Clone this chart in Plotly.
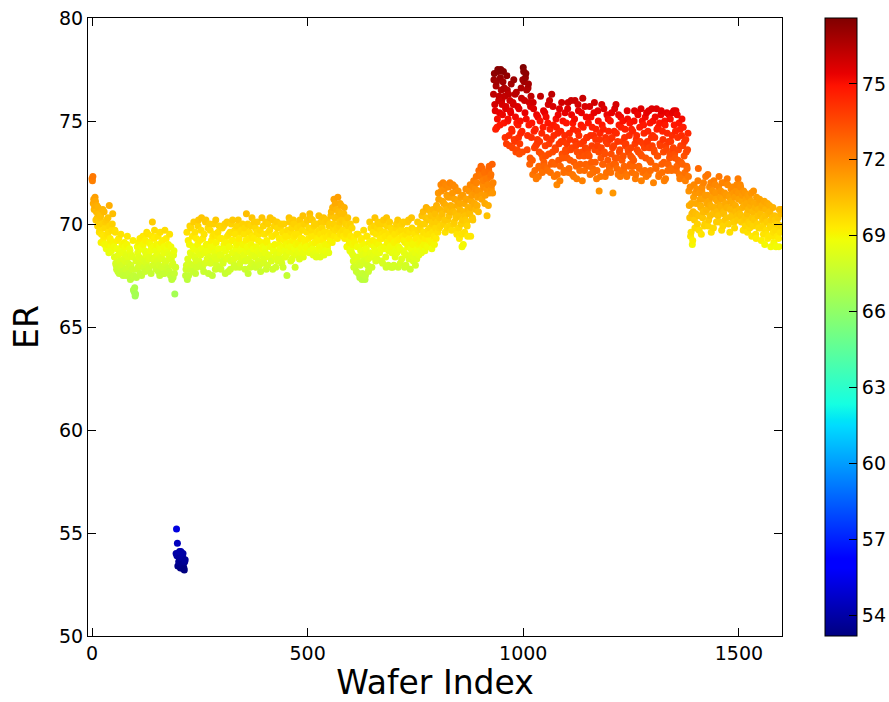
import numpy as np
import plotly.graph_objects as go

# ER readings for the even-numbered wafers (0, 2, 4, ...), 50 wafers per row
er_even_wafers = [
    72.2, 72.3, 71.2, 70.9, 71.1, 70.6, 70.3, 70.8, 70.1, 69.7, 70.4, 69.5, 70.0, 69.2, 70.6, 69.8, 69.4, 70.2, 69.0, 69.6, 70.9, 69.3, 68.9, 69.7, 70.5,
    69.1, 68.4, 69.6, 68.0, 68.8, 67.7, 69.3, 68.2, 67.9, 68.6, 69.0, 67.5, 68.3, 68.9, 67.8, 68.5, 69.4, 68.1, 67.6, 68.7, 68.0, 67.4, 68.4, 66.8, 66.7,
    66.5, 68.2, 67.8, 68.6, 69.1, 68.0, 67.6, 68.9, 68.3, 69.4, 67.9, 68.7, 69.2, 68.1, 68.6, 69.5, 67.8, 68.4, 69.0, 68.8, 70.1, 68.3, 69.3, 68.0, 68.7,
    69.0, 68.2, 67.7, 68.9, 69.6, 68.4, 67.9, 69.2, 68.6, 67.6, 68.1, 69.3, 68.8, 67.8, 68.5, 69.5, 67.5, 68.3, 68.0, 67.4, 68.7, 66.6, 67.9, 55.2, 54.5,
    54.0, 53.8, 53.6, 54.1, 53.3, 53.9, 53.5, 53.2, 53.7, 67.8, 69.6, 68.3, 67.5, 69.0, 68.6, 69.8, 68.0, 68.9, 70.1, 68.4, 67.6, 69.3, 68.7, 69.9, 68.2,
    69.2, 68.5, 70.3, 67.9, 68.8, 69.5, 68.1, 70.2, 68.7, 69.0, 67.6, 68.4, 69.7, 68.9, 68.2, 69.4, 70.0, 68.6, 67.8, 69.1, 68.3, 69.6, 68.8, 67.9, 69.3,
    68.5, 69.8, 68.1, 69.0, 70.0, 68.7, 68.3, 69.4, 67.7, 68.9, 69.6, 68.2, 69.2, 70.2, 68.6, 68.0, 69.5, 68.8, 69.9, 68.4, 69.1, 67.9, 68.7, 69.7, 68.3,
    69.0, 68.5, 69.8, 68.2, 70.5, 68.9, 67.6, 69.3, 68.6, 69.9, 68.1, 69.4, 68.8, 70.1, 68.4, 67.9, 69.6, 68.7, 69.2, 68.0, 69.7, 68.5, 70.3, 68.9, 68.3,
    69.5, 68.6, 67.8, 69.1, 70.0, 68.4, 69.7, 68.9, 68.2, 69.4, 70.2, 68.7, 69.0, 67.9, 68.5, 69.8, 68.3, 69.3, 68.8, 70.0, 68.1, 69.6, 68.9, 69.2, 68.4,
    69.0, 67.5, 69.4, 68.7, 70.1, 68.9, 69.6, 68.3, 69.2, 70.0, 68.8, 69.5, 68.5, 69.8, 69.1, 68.6, 70.2, 69.3, 68.9, 69.7, 68.4, 70.0, 69.2, 68.8, 69.6,
    70.2, 69.3, 68.6, 70.3, 69.0, 69.7, 68.8, 69.4, 70.0, 69.1, 68.4, 69.6, 69.2, 70.4, 68.9, 69.5, 68.7, 69.8, 69.3, 68.5, 70.1, 69.0, 69.6, 68.8, 69.4,
    69.9, 69.2, 70.4, 69.6, 70.8, 70.0, 69.4, 71.0, 70.3, 69.8, 71.3, 70.6, 70.1, 69.5, 70.9, 70.2, 69.7, 70.5, 69.3, 70.0, 69.6, 68.9, 69.9, 69.2, 68.7,
    69.4, 68.6, 69.0, 68.2, 69.3, 67.9, 70.2, 69.5, 68.4, 67.6, 68.9, 68.0, 69.2, 67.3, 68.5, 69.7, 68.1, 67.5, 68.8, 69.4, 68.3, 67.8, 70.1, 68.6, 69.0,
    68.4, 69.6, 68.9, 70.3, 68.2, 69.1, 69.8, 68.6, 70.0, 69.3, 68.8, 69.5, 68.1, 70.2, 68.9, 69.4, 67.9, 69.9, 69.1, 68.7, 70.1, 69.3, 67.9, 69.7, 68.9,
    68.0, 69.5, 68.7, 70.0, 69.2, 67.9, 69.6, 68.8, 69.9, 68.3, 69.4, 70.1, 68.6, 69.1, 68.0, 69.7, 68.9, 70.2, 69.3, 67.8, 68.5, 69.8, 69.0, 68.4, 69.5,
    68.0, 69.3, 68.8, 69.7, 68.5, 69.1, 70.0, 68.6, 69.4, 70.6, 69.0, 68.7, 70.3, 69.5, 68.9, 70.7, 69.2, 69.8, 70.4, 68.8, 69.6, 70.1, 69.0, 70.5, 69.3,
    70.8, 69.6, 71.2, 70.3, 69.9, 71.6, 70.5, 72.0, 71.0, 70.2, 71.9, 70.7, 69.8, 71.3, 70.4, 72.0, 70.9, 69.7, 71.5, 70.6, 70.1, 71.8, 70.3, 69.5, 71.1,
    70.4, 69.3, 71.0, 70.0, 68.9, 71.4, 70.6, 69.6, 70.2, 71.2, 69.9, 70.8, 71.6, 70.5, 69.4, 71.1, 70.3, 71.8, 70.9, 71.5, 70.7, 72.0, 71.3, 70.6, 72.4,
    71.6, 72.8, 71.2, 72.1, 71.8, 72.5, 71.4, 72.2, 70.4, 71.9, 72.6, 71.5, 72.3, 71.7, 72.9, 72.0, 77.0, 75.8, 74.6, 76.9, 75.1, 77.4, 76.2, 74.8, 77.5,
    76.0, 75.3, 77.4, 76.6, 74.2, 75.7, 77.2, 75.0, 76.3, 73.8, 75.5, 76.8, 74.5, 75.9, 77.0, 74.0, 75.2, 76.4, 73.6, 74.8, 75.6, 73.9, 74.4, 76.1, 73.5,
    77.6, 76.9, 75.4, 77.3, 76.5, 74.3, 76.8, 75.9, 73.2, 76.2, 74.9, 72.4, 75.6, 73.7, 74.6, 72.2, 73.9, 75.2, 72.8, 74.0, 76.2, 73.4, 72.5, 74.7, 73.0,
    75.4, 73.3, 74.2, 72.6, 75.8, 73.9, 74.6, 72.9, 76.3, 73.5, 74.8, 72.3, 73.7, 75.1, 71.9, 74.4, 73.1, 75.6, 72.8, 74.0, 73.4, 75.0, 72.5, 74.3, 73.6,
    74.9, 73.2, 75.9, 72.7, 74.1, 73.6, 75.3, 72.4, 74.6, 73.0, 76.0, 73.8, 72.2, 74.5, 75.5, 73.3, 72.9, 74.8, 73.5, 76.1, 74.0, 72.6, 73.7, 75.2, 74.2,
    73.4, 72.8, 75.7, 74.3, 73.0, 74.7, 72.5, 75.4, 73.6, 74.1, 72.2, 73.8, 75.0, 71.6, 74.4, 73.2, 75.8, 72.9, 74.6, 73.5, 72.3, 74.0, 75.3, 73.1, 74.5,
    72.7, 75.0, 73.4, 74.2, 71.5, 73.8, 75.6, 72.9, 74.4, 73.2, 72.4, 74.8, 73.6, 75.2, 72.6, 74.0, 73.3, 72.8, 74.6, 73.9, 72.3, 75.1, 73.5, 74.3, 72.9,
    73.7, 72.5, 74.5, 73.1, 75.5, 72.2, 74.1, 73.6, 75.3, 72.8, 74.7, 73.4, 72.1, 75.0, 73.9, 74.4, 72.6, 73.2, 75.4, 74.0, 72.4, 73.7, 74.9, 73.0, 75.6,
    74.3, 72.0, 73.5, 75.2, 72.7, 74.6, 73.3, 72.3, 74.9, 73.8, 75.5, 72.5, 74.1, 73.0, 75.0, 72.2, 73.6, 74.4, 72.9, 75.3, 73.4, 74.0, 72.6, 75.4, 73.7,
    74.8, 73.2, 75.5, 72.8, 74.2, 73.6, 72.4, 74.6, 73.0, 75.1, 73.8, 72.3, 74.0, 72.1, 73.5, 72.7, 74.4, 71.6, 70.3, 69.4, 71.0, 69.0, 70.6, 71.9, 69.8,
    70.5, 71.7, 70.0, 72.7, 69.7, 71.2, 70.8, 71.6, 70.3, 72.0, 69.9, 71.4, 70.6, 71.0, 72.4, 70.2, 71.8, 70.9, 69.6, 71.3, 70.5, 72.1, 70.8, 71.5, 70.1,
    71.1, 70.4, 72.3, 70.9, 71.6, 69.7, 71.2, 70.6, 72.0, 70.2, 71.4, 70.8, 71.9, 70.0, 71.3, 70.7, 71.7, 70.3, 71.0, 71.5, 69.8, 70.9, 71.6, 70.4, 72.2,
    71.2, 70.5, 71.8, 70.1, 71.4, 69.7, 70.9, 71.5, 70.3, 71.0, 69.6, 70.7, 71.3, 70.0, 71.1, 69.4, 70.6, 71.6, 70.2, 70.8, 69.3, 71.0, 70.4, 69.8, 71.2,
    70.5, 69.2, 70.9, 69.9, 70.3, 69.0, 70.7, 69.5, 71.0, 70.1, 69.4, 70.6, 68.9, 69.8, 70.3, 69.6, 69.0, 70.2, 68.9, 69.7, 70.0, 69.3, 70.7, 69.6, 69.9,
]

# ER readings for the odd-numbered wafers (1, 3, 5, ...), 50 wafers per row
er_odd_wafers = [
    72.1, 71.0, 70.7, 71.3, 70.2, 70.9, 69.9, 70.5, 69.6, 70.3, 69.1, 70.0, 70.7, 69.4, 69.0, 70.1, 68.8, 69.5, 70.3, 68.6, 69.9, 69.2, 68.7, 70.0, 69.0,
    68.9, 69.7, 68.1, 67.8, 69.2, 68.5, 67.6, 68.8, 69.5, 68.0, 67.7, 68.6, 69.1, 68.2, 67.5, 69.0, 68.4, 67.9, 68.8, 67.3, 68.5, 67.8, 69.2, 67.5, 66.9,
    66.6, 67.4, 68.9, 67.9, 68.4, 69.3, 68.1, 67.5, 68.8, 69.0, 68.2, 67.7, 68.5, 69.6, 67.9, 68.3, 69.1, 68.7, 67.6, 69.4, 68.0, 68.9, 69.7, 68.4, 67.8,
    68.6, 69.4, 68.0, 67.5, 68.8, 69.1, 68.3, 67.6, 68.9, 69.7, 68.2, 67.9, 68.6, 69.0, 67.7, 68.4, 68.9, 67.3, 68.1, 68.5, 67.6, 67.9, 54.0, 53.9, 53.4,
    53.6, 54.1, 53.3, 53.8, 53.5, 54.0, 53.3, 53.6, 67.5, 68.0, 67.3, 69.2, 68.1, 69.9, 67.8, 68.5, 69.4, 67.7, 68.8, 69.6, 68.2, 67.9, 69.0, 70.2, 68.6,
    68.0, 69.7, 68.8, 69.3, 67.7, 68.6, 70.1, 69.0, 68.3, 69.8, 68.7, 70.0, 68.1, 69.2, 67.5, 68.9, 69.5, 68.4, 70.2, 68.0, 69.4, 68.7, 69.9, 68.5, 67.8,
    69.3, 68.2, 69.9, 68.8, 67.6, 69.1, 70.1, 68.4, 69.5, 68.9, 67.8, 70.0, 68.6, 69.2, 68.3, 69.7, 67.9, 69.0, 68.5, 70.2, 69.3, 68.1, 69.6, 68.8, 70.0,
    68.4, 69.5, 67.8, 69.2, 68.7, 70.0, 68.3, 69.6, 67.9, 69.0, 70.3, 68.5, 69.3, 68.0, 69.8, 68.9, 70.1, 68.2, 69.5, 68.6, 67.7, 69.1, 68.8, 69.9, 68.1,
    68.8, 70.1, 69.2, 68.0, 69.6, 68.5, 70.3, 68.9, 69.4, 67.8, 68.7, 69.9, 68.4, 69.5, 70.1, 68.2, 69.0, 68.6, 69.8, 68.3, 69.3, 67.9, 70.0, 68.7, 69.4,
    68.5, 69.7, 68.9, 70.3, 69.1, 68.2, 69.8, 68.6, 70.2, 69.4, 67.9, 69.0, 70.0, 68.7, 69.5, 68.3, 69.9, 68.8, 69.3, 70.4, 68.6, 69.1, 70.0, 68.9, 70.2,
    68.9, 69.8, 70.5, 68.7, 69.4, 70.2, 68.5, 69.9, 69.1, 68.6, 70.0, 69.3, 68.8, 69.7, 68.4, 70.1, 69.2, 68.9, 70.3, 69.6, 68.7, 69.4, 70.2, 69.0, 68.6,
    70.0, 69.5, 70.6, 69.1, 69.8, 71.2, 70.3, 69.7, 70.7, 69.3, 70.4, 69.9, 71.0, 70.5, 69.6, 70.2, 69.4, 70.8, 70.1, 69.5, 68.9, 70.3, 69.6, 69.1, 70.0,
    68.8, 69.8, 68.5, 67.9, 69.1, 68.3, 67.7, 68.9, 69.5, 68.1, 67.4, 68.7, 69.3, 67.6, 68.2, 69.0, 67.3, 68.6, 69.4, 68.0, 67.7, 69.1, 68.4, 69.8, 67.9,
    69.2, 68.5, 69.9, 68.7, 69.5, 68.3, 70.1, 69.0, 68.6, 69.7, 68.2, 69.3, 70.0, 68.8, 69.6, 68.4, 70.3, 69.1, 68.0, 69.5, 68.9, 69.8, 68.6, 67.9, 69.3,
    69.1, 68.4, 69.8, 68.6, 70.2, 68.9, 69.3, 68.1, 69.7, 70.0, 68.7, 69.2, 67.9, 69.5, 68.5, 70.1, 69.0, 68.3, 69.6, 68.8, 70.3, 69.1, 68.2, 69.7, 68.6,
    69.5, 68.3, 70.1, 69.0, 68.7, 69.8, 69.2, 70.4, 68.9, 69.6, 70.0, 69.3, 70.8, 68.9, 69.7, 70.2, 69.5, 70.6, 69.1, 70.0, 70.7, 69.4, 70.3, 69.8, 70.9,
    70.1, 71.5, 69.8, 70.7, 71.9, 70.4, 71.1, 70.0, 71.7, 69.6, 70.9, 71.4, 70.2, 71.8, 69.9, 70.6, 71.3, 70.8, 71.9, 70.0, 71.2, 70.5, 69.7, 70.9, 71.6,
    69.8, 70.7, 71.3, 69.5, 70.2, 69.0, 71.0, 70.4, 71.7, 70.1, 69.4, 71.2, 70.6, 71.9, 70.8, 71.4, 70.2, 72.1, 71.0, 71.7, 72.3, 70.9, 71.6, 72.6, 71.4,
    72.3, 71.4, 72.7, 71.9, 72.1, 71.0, 72.5, 71.7, 72.2, 70.9, 72.8, 71.6, 72.4, 71.9, 71.5, 76.3, 77.3, 75.5, 76.7, 74.7, 77.5, 76.0, 75.4, 77.1, 76.5,
    75.8, 76.9, 74.9, 76.2, 75.6, 73.9, 76.5, 75.1, 74.3, 76.0, 75.4, 74.6, 73.7, 75.8, 74.1, 76.3, 73.5, 74.9, 75.7, 74.2, 73.4, 75.0, 76.6, 74.5, 77.0,
    77.4, 76.0, 77.1, 75.1, 73.6, 76.6, 74.8, 72.9, 75.7, 74.2, 73.1, 75.9, 74.5, 72.6, 73.8, 75.3, 74.1, 72.3, 73.5, 75.0, 72.7, 74.4, 73.2, 75.5, 72.8,
    73.8, 75.2, 72.7, 74.9, 73.4, 76.0, 72.5, 74.1, 73.0, 75.7, 74.3, 72.9, 73.6, 74.7, 72.4, 75.3, 73.9, 72.1, 74.5, 75.9, 73.2, 74.0, 72.6, 75.4, 73.5,
    73.9, 75.6, 72.5, 74.4, 73.1, 76.0, 73.7, 74.9, 72.3, 75.1, 74.0, 72.8, 73.5, 75.8, 74.3, 72.6, 73.9, 75.4, 72.1, 74.7, 73.3, 75.7, 72.9, 74.2, 73.6,
    74.9, 73.3, 72.4, 75.2, 73.8, 72.7, 74.3, 75.9, 73.0, 74.6, 72.6, 75.5, 73.5, 74.1, 72.3, 73.7, 74.8, 72.9, 75.6, 73.4, 74.2, 72.5, 73.9, 75.1, 72.8,
    74.1, 72.5, 75.4, 73.7, 72.9, 74.5, 73.2, 75.8, 72.7, 74.0, 75.3, 73.5, 72.3, 74.7, 73.1, 75.0, 72.6, 74.2, 73.8, 72.4, 75.5, 73.6, 72.8, 74.9, 73.3,
    74.6, 73.2, 72.8, 75.0, 73.9, 72.4, 74.3, 75.4, 73.5, 72.7, 74.0, 75.6, 73.3, 72.5, 74.8, 73.7, 75.2, 72.3, 73.9, 74.5, 75.5, 73.1, 72.6, 74.2, 73.8,
    75.0, 73.6, 74.2, 72.8, 75.6, 73.3, 74.7, 72.4, 73.9, 75.3, 72.9, 74.5, 73.5, 72.1, 74.8, 73.8, 75.4, 72.6, 74.0, 73.2, 75.1, 72.7, 74.3, 73.6, 75.5,
    73.4, 74.5, 72.6, 75.3, 73.1, 74.9, 72.2, 73.8, 74.3, 72.9, 74.7, 73.3, 72.5, 74.1, 72.8, 73.6, 72.3, 70.9, 71.8, 69.6, 70.5, 69.2, 71.3, 70.2, 71.5,
    71.0, 69.8, 72.1, 70.4, 71.5, 70.9, 69.5, 71.8, 70.6, 71.2, 70.0, 72.3, 70.7, 71.4, 69.9, 71.1, 70.4, 72.0, 70.8, 71.6, 69.8, 70.5, 71.9, 71.2, 70.6,
    70.6, 71.8, 70.1, 71.3, 70.8, 72.0, 69.9, 70.5, 71.5, 71.0, 70.3, 72.2, 70.8, 71.4, 69.6, 71.1, 70.4, 71.8, 70.7, 70.1, 71.3, 70.6, 71.9, 70.2, 71.5,
    70.7, 71.9, 70.4, 71.1, 70.8, 71.6, 70.2, 69.9, 71.2, 70.5, 71.4, 70.1, 69.8, 70.9, 71.5, 70.3, 69.9, 71.0, 70.6, 69.5, 71.3, 70.0, 70.7, 71.1, 70.4,
    69.8, 70.8, 70.2, 69.5, 71.1, 70.4, 69.7, 70.1, 69.3, 70.5, 70.9, 69.9, 70.2, 69.4, 70.8, 69.1, 70.4, 69.7, 70.0, 69.4, 70.3, 68.9, 69.8, 70.5, 70.7,
]

# wafer index / ER pairs in wafer order
wafer_index = []
er_values = []
for k, (ev, od) in enumerate(zip(er_even_wafers, er_odd_wafers)):
    wafer_index += [2 * k, 2 * k + 1]
    er_values += [ev, od]

x_ticks = [0, 500, 1000, 1500]
y_ticks = [50, 55, 60, 65, 70, 75, 80]
cbar_ticks = [54, 57, 60, 63, 66, 69, 72, 75]

# matplotlib "jet" colormap, rebuilt from its segment data
_jet_r = [(0.0, 0.0), (0.35, 0.0), (0.66, 1.0), (0.89, 1.0), (1.0, 0.5)]
_jet_g = [(0.0, 0.0), (0.125, 0.0), (0.375, 1.0), (0.64, 1.0), (0.91, 0.0), (1.0, 0.0)]
_jet_b = [(0.0, 0.5), (0.11, 1.0), (0.34, 1.0), (0.65, 0.0), (1.0, 0.0)]


def _chan(seg, t):
    return float(np.interp(t, [p[0] for p in seg], [p[1] for p in seg]))


_stops = sorted({p[0] for p in _jet_r + _jet_g + _jet_b})
jet = [
    [t, "rgb({},{},{})".format(round(255 * _chan(_jet_r, t)),
                               round(255 * _chan(_jet_g, t)),
                               round(255 * _chan(_jet_b, t)))]
    for t in _stops
]

font_family = "DejaVu Sans"

fig = go.Figure(
    go.Scatter(
        x=wafer_index,
        y=er_values,
        mode="markers",
        marker=dict(
            size=7,
            color=er_values,
            colorscale=jet,
            line=dict(width=0),
            colorbar=dict(
                x=1.062,
                xanchor="left",
                xpad=0,
                ypad=0,
                y=0.5,
                yanchor="middle",
                len=1,
                lenmode="fraction",
                thickness=32,
                outlinecolor="black",
                outlinewidth=1,
                tickvals=cbar_ticks,
                ticks="inside",
                ticklen=8,
                tickcolor="black",
                tickfont=dict(family=font_family, size=19, color="black"),
            ),
        ),
        showlegend=False,
        hoverinfo="x+y",
    )
)

axis_common = dict(
    showline=True,
    linecolor="black",
    linewidth=1,
    mirror="allticks",
    ticks="inside",
    ticklen=8,
    tickcolor="black",
    showgrid=False,
    zeroline=False,
    tickfont=dict(family=font_family, size=19, color="black"),
)

fig.update_layout(
    width=889,
    height=702,
    margin=dict(l=88, r=107, t=18, b=66, autoexpand=False),
    paper_bgcolor="white",
    plot_bgcolor="white",
    font=dict(family=font_family, color="black"),
    xaxis=dict(
        range=[-9.3, 1600],
        tickvals=x_ticks,
        title=dict(text="Wafer Index", font=dict(size=33), standoff=15),
        **axis_common,
    ),
    yaxis=dict(
        range=[50, 80],
        tickvals=y_ticks,
        title=dict(text="ER", font=dict(size=33), standoff=10),
        **axis_common,
    ),
)

fig.write_html("out.html")
